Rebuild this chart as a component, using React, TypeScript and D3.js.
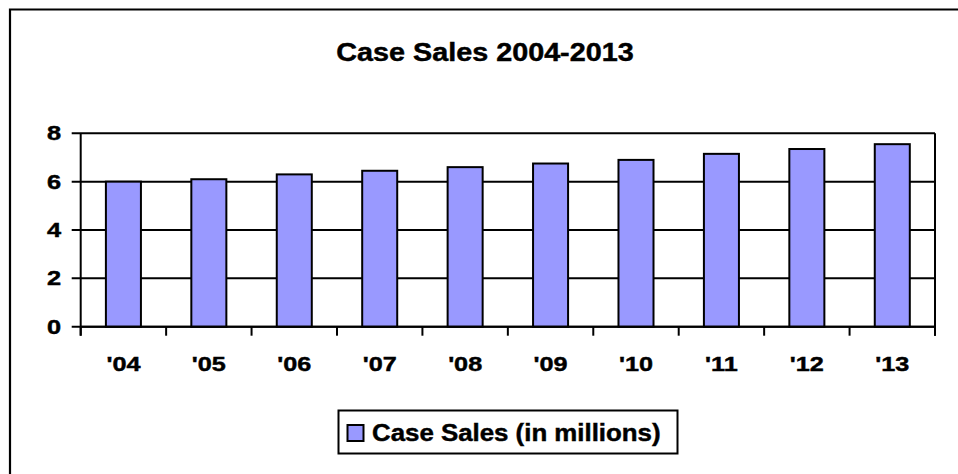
import React from "react";
import * as d3 from "d3";

const categories = ["'04", "'05", "'06", "'07", "'08", "'09", "'10", "'11", "'12", "'13"];
const values = [6.0, 6.1, 6.3, 6.45, 6.6, 6.75, 6.9, 7.15, 7.35, 7.55];
const yTicks = [0, 2, 4, 6, 8];
const title = "Case Sales 2004-2013";
const seriesName = "Case Sales (in millions)";

const W = 958;
const H = 474;
const FONT = "'Liberation Sans', Arial, sans-serif";
const TS = 0.45; // slight text stroke for heavier look

export default function App() {
  const left = 80.7;
  const right = 935;
  const top = 133.3;
  const bottom = 326.7;

  const x = d3.scaleBand<string>().domain(categories).range([left, right]).paddingInner(0.59).paddingOuter(0.295);
  const y = d3.scaleLinear().domain([0, 8]).range([bottom, top]);
  const step = x.step();
  const boundaries = d3.range(categories.length + 1).map((i) => left + i * step);

  return (
    <svg width={W} height={H} style={{ position: "absolute", left: 0, top: 0, background: "#fff" }}>
      <rect x={0} y={0} width={W} height={H} fill="#fff" />
      {/* outer border: top and left only */}
      <path d={`M10,${H} L10,9.5 L${W},9.5`} fill="none" stroke="#000" strokeWidth={2.2} />

      <text
        transform={`translate(485,61) scale(1.15,1)`}
        textAnchor="middle"
        fontFamily={FONT}
        fontWeight="bold"
        fontSize={25}
        stroke="#000"
        strokeWidth={TS}
      >
        {title}
      </text>

      {/* gridlines */}
      {yTicks.map((t) => (
        <line key={"g" + t} x1={left - 9} x2={right} y1={y(t)} y2={y(t)} stroke="#000" strokeWidth={2} />
      ))}
      {/* right border */}
      <line x1={right} x2={right} y1={top} y2={bottom + 9} stroke="#000" strokeWidth={2} />
      {/* y axis */}
      <line x1={left} x2={left} y1={top} y2={bottom + 9} stroke="#000" strokeWidth={2} />
      {/* x ticks */}
      {boundaries.map((b, i) => (
        <line key={"xt" + i} x1={b} x2={b} y1={bottom} y2={bottom + 9} stroke="#000" strokeWidth={2} />
      ))}

      {/* bars */}
      {categories.map((c, i) => (
        <rect
          key={c}
          x={x(c)!}
          y={y(values[i])}
          width={x.bandwidth()}
          height={y(0) - y(values[i])}
          fill="#9999FF"
          stroke="#000"
          strokeWidth={2}
        />
      ))}
      <line x1={left} x2={right} y1={bottom} y2={bottom} stroke="#000" strokeWidth={2} />

      {/* y labels */}
      {yTicks.map((t) => (
        <text
          key={"yl" + t}
          transform={`translate(61,${y(t) + 7}) scale(1.3,1)`}
          textAnchor="end"
          fontFamily={FONT}
          fontWeight="bold"
          fontSize={19.5}
          stroke="#000"
          strokeWidth={TS}
        >
          {t}
        </text>
      ))}

      {/* x labels */}
      {categories.map((c) => (
        <text
          key={"xl" + c}
          transform={`translate(${x(c)! + x.bandwidth() / 2},371) scale(1.2,1)`}
          textAnchor="middle"
          fontFamily={FONT}
          fontWeight="bold"
          fontSize={21}
          stroke="#000"
          strokeWidth={TS}
        >
          {c}
        </text>
      ))}

      {/* legend */}
      <rect x={338.5} y={410.5} width={339} height={43} fill="#fff" stroke="#000" strokeWidth={2} />
      <rect x={347.5} y={425} width={16} height={16} fill="#9999FF" stroke="#000" strokeWidth={2} />
      <text
        transform={`translate(372,441) scale(1.1,1)`}
        fontFamily={FONT}
        fontWeight="bold"
        fontSize={23.5}
        stroke="#000"
        strokeWidth={TS}
      >
        {seriesName}
      </text>
    </svg>
  );
}
